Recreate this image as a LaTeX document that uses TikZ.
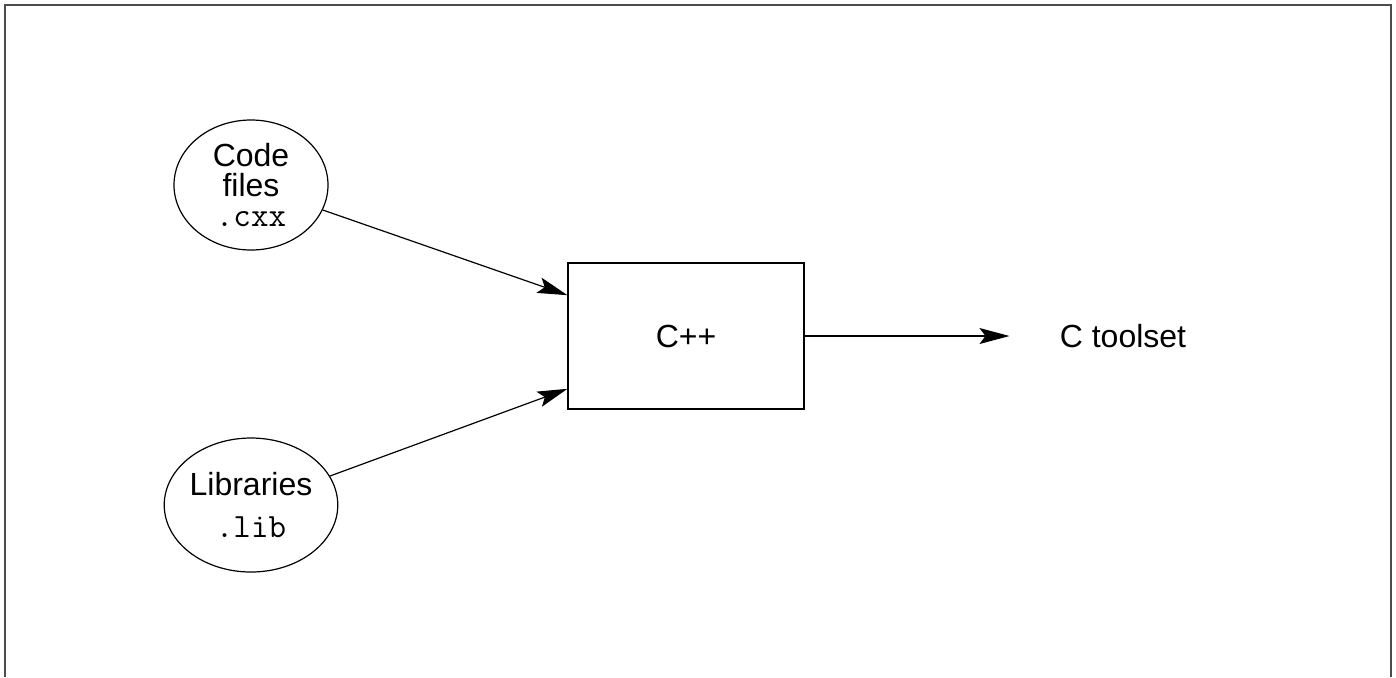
\documentclass[tikz,border=0pt]{standalone}
\usepackage{fontspec}
\setmainfont{Liberation Sans}
\usepackage{tikz}
\usetikzlibrary{shapes.geometric,arrows.meta}
\pgfkeys{tikz/myfont/.style={font=\fontsize{16}{15}\selectfont}}
\pgfkeys{tikz/myinput/.style={ellipse,draw,line width=0.6pt,inner sep=0pt,align=center,myfont}}
\pgfkeys{tikz/mybox/.style={rectangle,draw,line width=0.6pt,minimum width=118pt,minimum height=73pt,myfont}}
\pgfkeys{tikz/myarrow/.style={-{Stealth[length=15pt,width=8pt,inset=3pt]},line width=0.6pt}}
\newcommand\myext[1]{{\fontsize{17}{15}\selectfont\texttt{#1}}}
\begin{document}
\begin{tikzpicture}[x=0.5pt,y=-0.5pt]
    \useasboundingbox (0,0) rectangle (1396,677);
    \draw[line width=1pt,black!70] (4.5,677) -- (4.5,5) -- (1391,5) -- (1391,677);
    \node[myinput,minimum width=77pt,minimum height=65pt] (code) at (251,185) {Code\\files\\\myext{.cxx}};
    \node[myinput,minimum width=84pt,minimum height=67pt] (lib) at (251,505) {\rule{0pt}{12pt}Libraries\\[6pt]\myext{.lib}};
    \node[mybox] (cpp) at (686,336) {C++};
    \node[myfont,inner sep=0pt] (tool) at (1123,336) {C toolset};
    \draw[myarrow] (code) -- (cpp.161);
    \draw[myarrow] (lib) -- (cpp.204);
    \draw[myarrow,shorten >=25pt] (cpp) -- (tool);
\end{tikzpicture}
\end{document}
